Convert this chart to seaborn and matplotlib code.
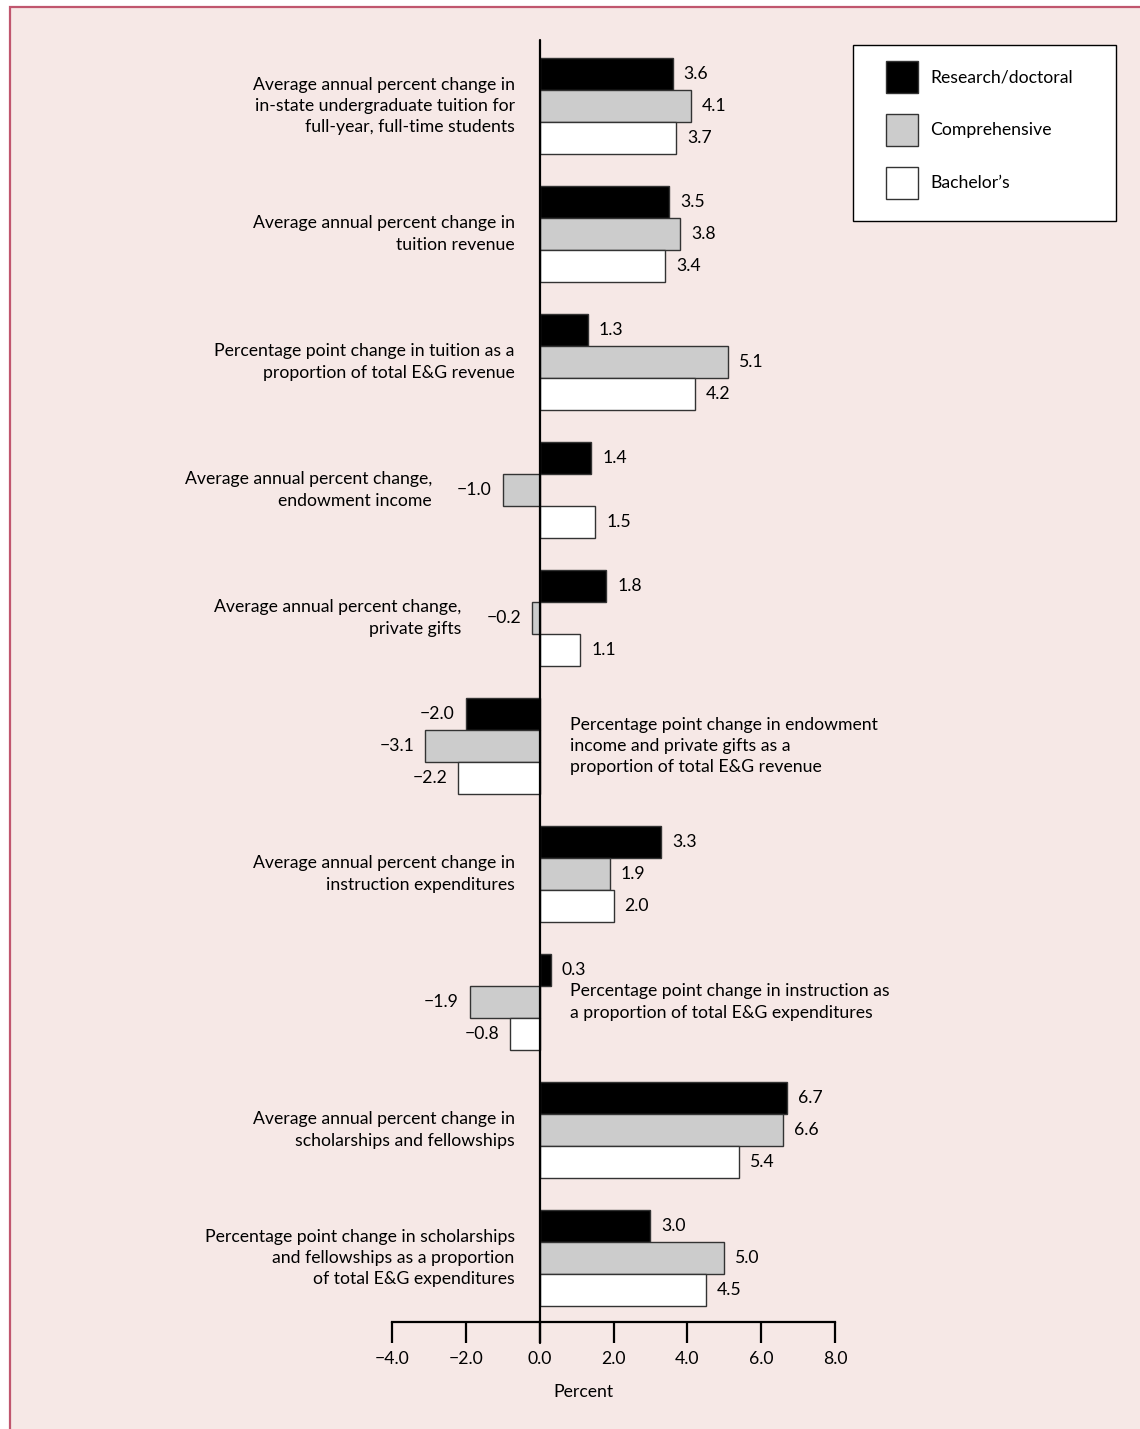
import matplotlib
matplotlib.use("Agg")
import matplotlib.pyplot as plt
from matplotlib.patches import Rectangle
from matplotlib.ticker import FuncFormatter
import seaborn as sns
import pandas as pd

categories = [
    "Average annual percent change in\nin-state undergraduate tuition for\nfull-year, full-time students",
    "Average annual percent change in\ntuition revenue",
    "Percentage point change in tuition as a\nproportion of total E&G revenue",
    "Average annual percent change,\nendowment income",
    "Average annual percent change,\nprivate gifts",
    "Percentage point change in endowment\nincome and private gifts as a\nproportion of total E&G revenue",
    "Average annual percent change in\ninstruction expenditures",
    "Percentage point change in instruction as\na proportion of total E&G expenditures",
    "Average annual percent change in\nscholarships and fellowships",
    "Percentage point change in scholarships\nand fellowships as a proportion\nof total E&G expenditures",
]
research = [3.6, 3.5, 1.3, 1.4, 1.8, -2.0, 3.3, 0.3, 6.7, 3.0]
comprehensive = [4.1, 3.8, 5.1, -1.0, -0.2, -3.1, 1.9, -1.9, 6.6, 5.0]
bachelors = [3.7, 3.4, 4.2, 1.5, 1.1, -2.2, 2.0, -0.8, 5.4, 4.5]
series_names = ["Research/doctoral", "Comprehensive", "Bachelor\u2019s"]
right_side_labels = [5, 7]
xticks = [-4.0, -2.0, 0.0, 2.0, 4.0, 6.0, 8.0]

rows = []
for name, vals in zip(series_names, [research, comprehensive, bachelors]):
    for c, v in zip(categories, vals):
        rows.append({"category": c, "series": name, "value": v})
df = pd.DataFrame(rows)

sns.set_style("white")
plt.rcParams["font.family"] = ["Lato", "DejaVu Sans"]
plt.rcParams["text.color"] = "black"
plt.rcParams["xtick.color"] = "black"
plt.rcParams["axes.labelcolor"] = "black"
FS = 12.7

BG = "#f6e8e6"
RED = "#c0566e"

fig = plt.figure(figsize=(11.4, 14.29), dpi=100, facecolor="white")
bg = Rectangle((10 / 1140, -0.02), 1.2, 1 - 7 / 1429 + 0.02,
               transform=fig.transFigure, facecolor=BG,
               edgecolor=RED, linewidth=1.6, zorder=-10)
fig.add_artist(bg)

ax = fig.add_axes([392 / 1140, 1 - 1322 / 1429, 443 / 1140, 1282 / 1429])
ax.set_zorder(2)
ax.set_facecolor("none")

palette = {series_names[0]: "black", series_names[1]: "#cccccc", series_names[2]: "white"}
sns.barplot(data=df, y="category", x="value", hue="series", order=categories,
            hue_order=series_names, palette=palette, orient="h", width=0.75,
            edgecolor="#333333", linewidth=1.0, ax=ax, legend=True, saturation=1)

ax.set_xlim(-4, 8)
ax.set_ylim(9.5, -0.516)

fmt = lambda v: f"{v:.1f}".replace("-", "\u2212")
for cont in ax.containers:
    ax.bar_label(cont, fmt=fmt, padding=8, fontsize=FS, color="black")

# spines & ticks
for s in ["left", "right", "top"]:
    ax.spines[s].set_visible(False)
ax.spines["bottom"].set_linewidth(1.6)
ax.spines["bottom"].set_color("black")
ax.set_xticks(xticks)
ax.xaxis.set_major_formatter(FuncFormatter(lambda v, p: f"{v:.1f}".replace("-", "\u2212")))
ax.tick_params(axis="x", direction="out", length=15, width=1.6, color="black",
               labelsize=FS, labelcolor="black", pad=6, bottom=True)
ax.tick_params(axis="y", left=False, labelleft=False)
ax.set_ylabel("")
ax.set_xlabel("Percent", fontsize=FS, color="black")
ax.xaxis.set_label_coords((583 - 392) / 443, -(1392 - 1322) / 1282)
ax.xaxis.label.set_va("center")

ax.axvline(0, ymin=-15 * 100 / 72 / 1282, ymax=1, color="black", linewidth=1.6,
           clip_on=False, zorder=5)

all_vals = list(zip(research, comprehensive, bachelors))
for i, c in enumerate(categories):
    if i in right_side_labels:
        ax.annotate(c, xy=(0, i), xytext=(22, 0), textcoords="offset points",
                    ha="left", va="center", fontsize=FS, linespacing=1.4)
    else:
        lo = min(all_vals[i])
        if lo < 0:
            # keep the text clear of the negative bar and its value label
            ax.annotate(c, xy=(lo, i), xytext=(-51, 0), textcoords="offset points",
                        ha="right", va="center", fontsize=FS, linespacing=1.4)
        else:
            ax.annotate(c, xy=(0, i), xytext=(-18, 0), textcoords="offset points",
                        ha="right", va="center", fontsize=FS, linespacing=1.4)

leg = ax.get_legend()
handles = leg.legend_handles
leg.remove()
frame = Rectangle((853 / 1140, 1 - 221 / 1429), 263 / 1140, 176 / 1429,
                  transform=fig.transFigure, facecolor="white", edgecolor="black",
                  linewidth=1.0, zorder=3)
fig.add_artist(frame)
lg = fig.legend(handles, series_names, loc="upper left",
                bbox_to_anchor=(886 / 1140, 1 - 61 / 1429), fontsize=FS,
                frameon=False, borderpad=0, handlelength=1.82, handleheight=2.4,
                handletextpad=0.7, labelspacing=1.2, borderaxespad=0)
lg.set_zorder(4)
for h in lg.legend_handles:
    h.set_edgecolor("#333333")
    h.set_linewidth(1.0)

fig.savefig("out.png", dpi=100, facecolor=fig.get_facecolor())
